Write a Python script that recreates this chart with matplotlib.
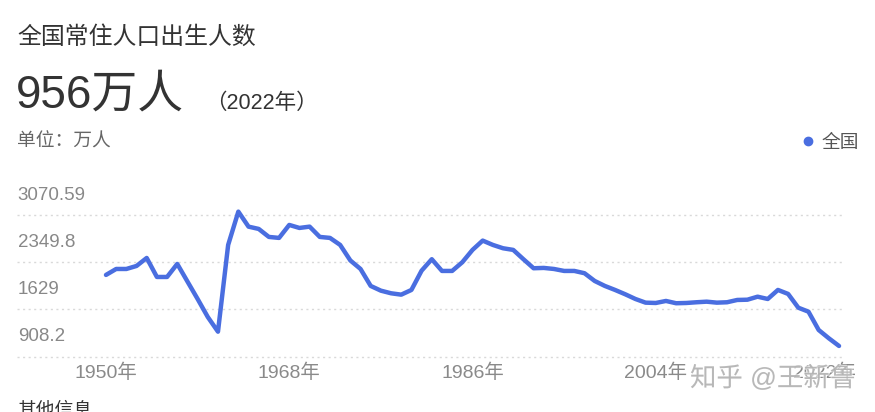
import matplotlib.pyplot as plt
import matplotlib.transforms as mtransforms
import matplotlib.patheffects as pe
from matplotlib.lines import Line2D

plt.rcParams['font.family'] = ['Liberation Sans', 'Noto Sans CJK SC', 'DejaVu Sans']

# births per year (万人)
years = list(range(1950, 2023))
births = [
    2156, 2247, 2247, 2293, 2415, 2125, 2125, 2324, 2056, 1789,
    1514, 1290, 2614, 3122, 2893, 2858, 2736, 2721, 2919, 2873,
    2893, 2736, 2721, 2614, 2377, 2247, 1988, 1916, 1876, 1855,
    1927, 2221, 2396, 2217, 2217, 2350, 2538, 2680, 2614, 2563,
    2538, 2396, 2258, 2263, 2247, 2217, 2217, 2182, 2064, 1988,
    1927, 1861, 1789, 1733, 1728, 1759, 1724, 1728, 1739, 1748,
    1733, 1739, 1774, 1778, 1824, 1789, 1927, 1866, 1656, 1595,
    1316, 1189, 1072,
]
y_ticks = [908.2, 1629, 2349.8, 3070.59]
y_tick_labels = ['908.2', '1629', '2349.8', '3070.59']
x_ticks = [1950, 1968, 1986, 2004, 2022]
x_tick_labels = ['1950年', '1968年', '1986年', '2004年', '2022年']

W, H = 875, 412
BLUE = '#4a6ee0'


def fx(x):
    return x / W


def fy(y):
    return 1 - y / H


fig = plt.figure(figsize=(W / 100, H / 100), dpi=100)

# header texts
fig.text(fx(17), fy(37), '全国常住人口出生人数', fontsize=17.2, color='#333333', va='center')
fig.text(fx(16), fy(96), '956万人', fontsize=33, color='#333333', va='center')
fig.text(fx(205), fy(103), '（2022年）', fontsize=15.5, color='#333333', va='center')
fig.text(fx(17), fy(142), '单位：万人', fontsize=13.5, color='#666666', va='center')
fig.text(fx(17), fy(402), '其他信息', fontsize=13.5, color='#333333', va='top')

# plot area
bottom_px, top_px = 362, 200
ppu = (356.7 - 215) / (3070.59 - 908.2)
ax = fig.add_axes([fx(17), fy(bottom_px), (843 - 17) / W, (bottom_px - top_px) / H])
ax.plot(years, births, color=BLUE, lw=3.2, solid_joinstyle='round',
        solid_capstyle='round', clip_on=False, zorder=3)
ax.set_xlim(1941.26, 2022.39)
ax.set_ylim(908.2 - (bottom_px - 356.7) / ppu, 908.2 + (356.7 - top_px) / ppu)

for s in ax.spines.values():
    s.set_visible(False)

ax.set_yticks(y_ticks)
ax.tick_params(axis='y', length=0, labelleft=False)
ax.yaxis.grid(True, color='#d9d9d9', linestyle=(0, (1.5, 2.5)), lw=1)
for t, lbl in zip(y_ticks, y_tick_labels):
    ax.annotate(lbl, xy=(0, t), xycoords=ax.get_yaxis_transform(),
                xytext=(0.5, 14.4), textcoords='offset points',
                ha='left', va='center', fontsize=13.5, color='#888888')

ax.set_xticks(x_ticks, x_tick_labels)
ax.tick_params(axis='x', length=0, labelsize=14, labelcolor='#8a8a8a', pad=1)
last = ax.get_xticklabels()[-1]
last.set_transform(last.get_transform()
                   + mtransforms.ScaledTranslation(-0.15, 0, fig.dpi_scale_trans))

# legend
handle = Line2D([], [], marker='o', color=BLUE, linestyle='none', markersize=6)
fig.legend([handle], ['全国'], loc='center right',
           bbox_to_anchor=(fx(859), fy(143)), bbox_transform=fig.transFigure,
           frameon=False, handletextpad=0.3, handlelength=0.8,
           borderpad=0, borderaxespad=0,
           prop={'size': 13.5}, labelcolor='#555555')

# watermark (semi-transparent, the last tick label shows through)
fig.text(fx(690), fy(378), '知乎 @王新鲁', fontsize=19, color='#a8a8a8', alpha=0.75,
         va='center', zorder=5,
         path_effects=[pe.withStroke(linewidth=1.5, foreground='white', alpha=0.6)])

fig.savefig('out.png', dpi=100)
